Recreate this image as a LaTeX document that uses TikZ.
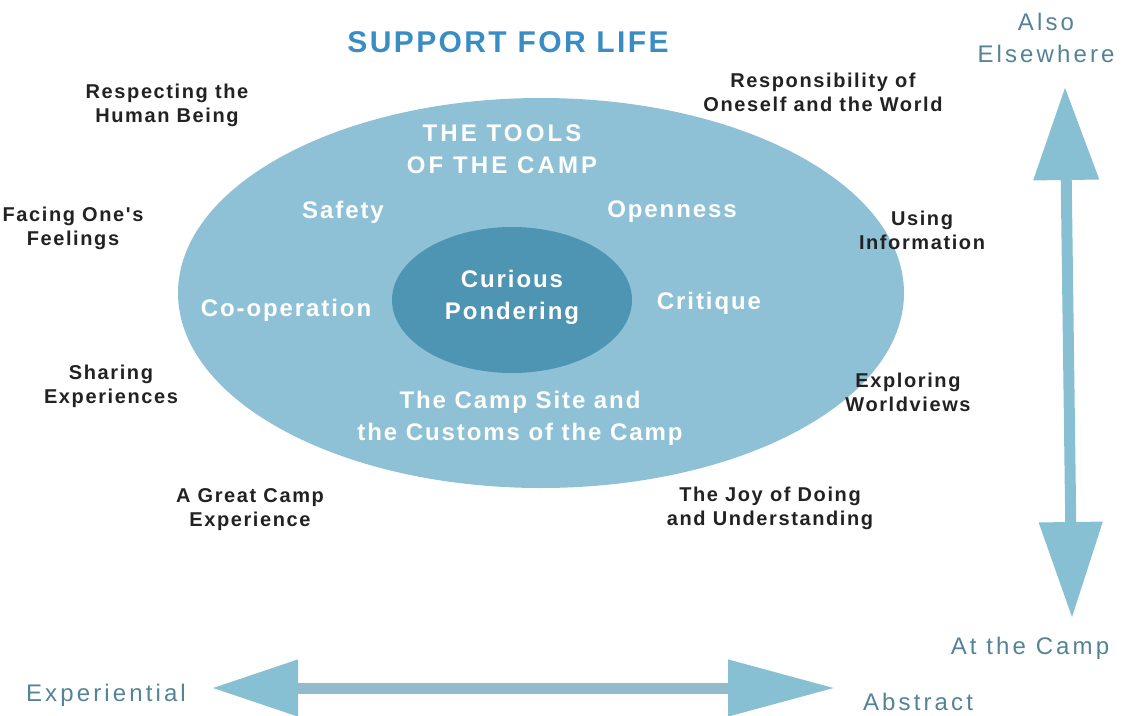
\documentclass[tikz,border=0pt]{standalone}
\usepackage{fontspec}
\usepackage{tikz}
\usetikzlibrary{arrows.meta}
\newfontfamily\campfont{Liberation Sans}[LetterSpace=8]
\newfontfamily\campwide{Liberation Sans}[LetterSpace=13]
\definecolor{campouter}{RGB}{143,193,214}
\definecolor{campinner}{RGB}{78,148,179}
\definecolor{camparrow}{RGB}{135,191,211}
\definecolor{campshaft}{RGB}{147,187,205}
\definecolor{camptitle}{RGB}{58,140,196}
\definecolor{campaxis}{RGB}{84,130,150}
\definecolor{campdark}{RGB}{34,34,34}
\tikzstyle{goalnode} = [align=center, text=campdark, font=\campfont\bfseries\fontsize{20}{24}\selectfont]
\tikzstyle{toolnode} = [align=center, text=white, font=\campfont\bfseries\fontsize{24}{32}\selectfont]
\tikzstyle{axisnode} = [align=center, text=campaxis, font=\campwide\fontsize{24}{32}\selectfont]
\tikzstyle{axisarrow} = [draw=campshaft, line width=11pt]

\begin{document}
\begin{tikzpicture}[x=1pt, y=-1pt]
\useasboundingbox (0,0) rectangle (1124,715);
\fill[campouter] (541,293) ellipse [x radius=363, y radius=195];
\fill[campinner] (512,300) ellipse [x radius=120, y radius=73];

\node[align=center, text=camptitle, font=\campfont\bfseries\fontsize{30}{32}\selectfont] (title) at (508,42) {SUPPORT FOR LIFE};

\node[goalnode] (respect) at (167,105) {Respecting the\\Human Being};
\node[goalnode] (facing) at (73,228) {Facing One's\\Feelings};
\node[goalnode] (sharing) at (111,386) {Sharing\\Experiences};
\node[goalnode] (great) at (250,510) {A Great Camp\\Experience};
\node[goalnode] (responsible) at (823,92) {Responsibility of\\Oneself and the World};
\node[goalnode] (using) at (922,230) {Using\\Information};
\node[goalnode] (exploring) at (908,392) {Exploring\\Worldviews};
\node[goalnode] (joy) at (770,508) {The Joy of Doing\\and Understanding};

\node[toolnode, font=\campwide\bfseries\fontsize{24}{32}\selectfont] (tools) at (502,149) {THE TOOLS\\OF THE CAMP};
\node[toolnode] (safety) at (343,212) {Safety};
\node[toolnode] (openness) at (672,212) {Openness};
\node[toolnode] (coop) at (286,310) {Co-operation};
\node[toolnode] (critique) at (709,303) {Critique};
\node[toolnode] (curious) at (512,297) {Curious\\Pondering};
\node[toolnode] (campsite) at (520,418) {The Camp Site and\\the Customs of the Camp};

\node[axisnode] (elsewhere) at (1046,38) {Also\\Elsewhere};
\node[axisnode] (atcamp) at (1030,648) {At the Camp};
\node[axisnode] (experiential) at (106,695) {Experiential};
\node[axisnode] (abstract) at (918,702) {Abstract};

\coordinate (uptip) at (1065,87);
\coordinate (downtip) at (1072,618);
\coordinate (lefttip) at (212,688);
\coordinate (righttip) at (835,688);
\draw[axisarrow, draw=camparrow, line width=11pt, {Triangle[length=93pt,width=63pt]}-{Triangle[length=96pt,width=61pt]}] (uptip) -- (downtip);
\draw[axisarrow, {Triangle[length=86pt,width=54pt,color=camparrow]}-{Triangle[length=107pt,width=54pt,color=camparrow]}] (lefttip) -- (righttip);
\end{tikzpicture}
\end{document}
